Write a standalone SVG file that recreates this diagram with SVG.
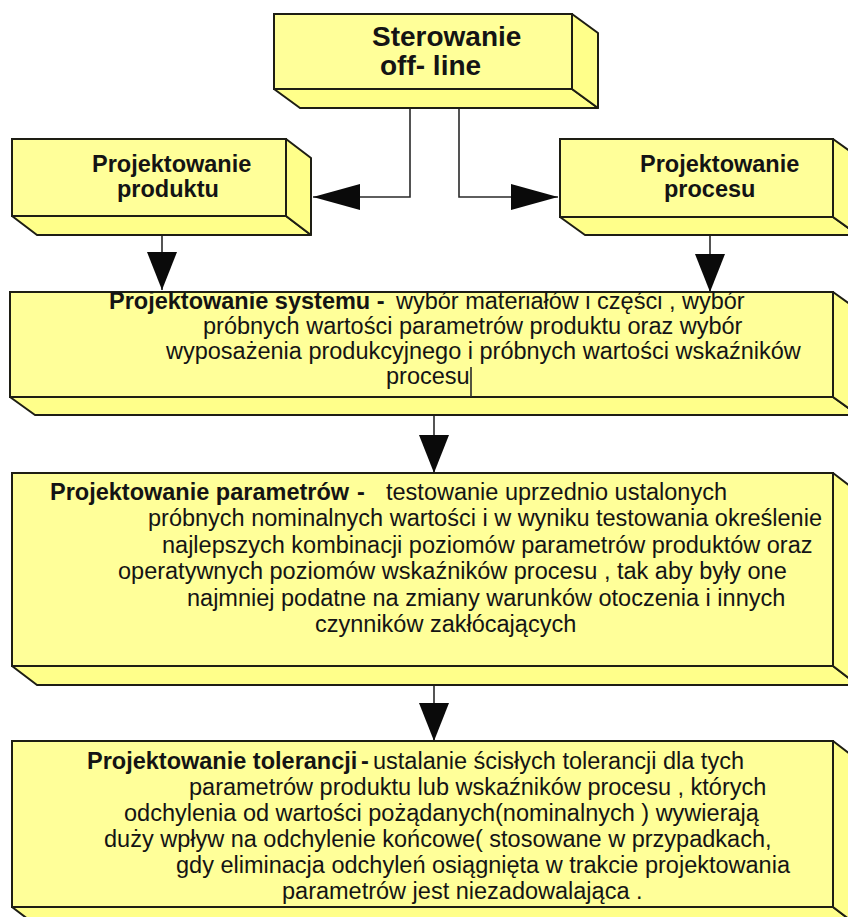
<svg xmlns="http://www.w3.org/2000/svg" width="848" height="917" viewBox="0 0 848 917">
  <defs>
    <style>
      .front { fill: #ffff99; stroke: #1e1e14; stroke-width: 2; }
      .depth { fill: #ffff8a; stroke: #1e1e14; stroke-width: 2; stroke-linejoin: round; }
      .t { font-family: "Liberation Sans", Arial, sans-serif; font-size: 23.5px; fill: #141414; }
      .b { font-weight: bold; }
      .big { font-size: 28px; }
      .conn { fill: none; stroke: #2a2a2a; stroke-width: 1.6; }
    </style>
    <marker id="arrV" markerUnits="userSpaceOnUse" markerWidth="40" markerHeight="30" refX="38" refY="15" orient="auto">
      <path d="M0,0 L38,15 L0,30 Z" fill="#0a0a0a"/>
    </marker>
    <marker id="arrH" markerUnits="userSpaceOnUse" markerWidth="48" markerHeight="28" refX="47" refY="13" orient="auto">
      <path d="M0,0 L47,13 L0,26 Z" fill="#0a0a0a"/>
    </marker>
  </defs>

  <rect width="848" height="917" fill="#ffffff"/>

  <!-- connectors -->
  <g id="connectors" class="conn">
    <path d="M410,101 V197 H313" marker-end="url(#arrH)"/>
    <path d="M459,101 V197 H558" marker-end="url(#arrH)"/>
    <path d="M162,225 V290" marker-end="url(#arrV)"/>
    <path d="M710,225 V292" marker-end="url(#arrV)"/>
    <path d="M434,406 V473" marker-end="url(#arrV)"/>
    <path d="M434,676 V741" marker-end="url(#arrV)"/>
  </g>

  <!-- Sterowanie off-line -->
  <g id="sterowanie">
    <polygon class="depth" points="274,89 572,89 598,108 300,108"/>
    <polygon class="depth" points="572,14 598,33 598,108 572,89"/>
    <rect class="front" x="274" y="14" width="298" height="75"/>
    <text class="t b big" x="372" y="46">Sterowanie</text>
    <text class="t b big" x="380" y="75">off- line</text>
  </g>

  <!-- Projektowanie produktu -->
  <g id="produkt">
    <polygon class="depth" points="12,216 286,216 311,235 37,235"/>
    <polygon class="depth" points="286,139 311,158 311,235 286,216"/>
    <rect class="front" x="12" y="139" width="274" height="77"/>
    <text class="t b" x="92" y="172">Projektowanie</text>
    <text class="t b" x="117" y="197">produktu</text>
  </g>

  <!-- Projektowanie procesu -->
  <g id="proces">
    <polygon class="depth" points="560,217 833,217 858,235 585,235"/>
    <polygon class="depth" points="833,139 858,157 858,235 833,217"/>
    <rect class="front" x="560" y="139" width="273" height="78"/>
    <text class="t b" x="640" y="172">Projektowanie</text>
    <text class="t b" x="664" y="197">procesu</text>
  </g>

  <!-- Projektowanie systemu -->
  <g id="system">
    <polygon class="depth" points="10,397 833,397 858,415 35,415"/>
    <polygon class="depth" points="833,292 858,310 858,415 833,397"/>
    <rect class="front" x="10" y="292" width="823" height="105"/>
    <text class="t" y="309"><tspan class="b" x="109">Projektowanie systemu -</tspan><tspan x="396">wybór materiałów i części , wybór</tspan></text>
    <text class="t" x="203" y="334">próbnych wartości parametrów produktu oraz wybór</text>
    <text class="t" x="166" y="359">wyposażenia produkcyjnego i próbnych wartości wskaźników</text>
    <text class="t" x="386" y="384">procesu</text>
    <line x1="471" y1="367" x2="471" y2="397" stroke="#2a2a2a" stroke-width="1.6"/>
  </g>

  <!-- Projektowanie parametrów -->
  <g id="parametry">
    <polygon class="depth" points="12,666 833,666 858,685 37,685"/>
    <polygon class="depth" points="833,473 858,492 858,685 833,666"/>
    <rect class="front" x="12" y="473" width="821" height="193"/>
    <text class="t" y="500"><tspan class="b" x="50">Projektowanie parametrów</tspan><tspan class="b" x="357">-</tspan><tspan x="386">testowanie uprzednio ustalonych</tspan></text>
    <text class="t" x="148" y="526">próbnych nominalnych wartości i w wyniku testowania określenie</text>
    <text class="t" x="162" y="553">najlepszych kombinacji poziomów parametrów produktów oraz</text>
    <text class="t" x="118" y="579">operatywnych poziomów wskaźników procesu , tak aby były one</text>
    <text class="t" x="187" y="606">najmniej podatne na zmiany warunków otoczenia i innych</text>
    <text class="t" x="315" y="632">czynników zakłócających</text>
  </g>

  <!-- Projektowanie tolerancji -->
  <g id="tolerancje">
    <polygon class="depth" points="12,907 833,907 858,926 37,926"/>
    <polygon class="depth" points="833,741 858,760 858,926 833,907"/>
    <rect class="front" x="12" y="741" width="821" height="166"/>
    <text class="t" y="769"><tspan class="b" x="87">Projektowanie tolerancji</tspan><tspan class="b" x="361">-</tspan><tspan x="373">ustalanie ścisłych tolerancji dla tych</tspan></text>
    <text class="t" x="189" y="795">parametrów produktu lub wskaźników procesu , których</text>
    <text class="t" x="124" y="821">odchylenia od wartości pożądanych(nominalnych ) wywierają</text>
    <text class="t" x="104" y="847">duży wpływ na odchylenie końcowe( stosowane w przypadkach,</text>
    <text class="t" x="176" y="873">gdy eliminacja odchyleń osiągnięta w trakcie projektowania</text>
    <text class="t" x="282" y="899">parametrów jest niezadowalająca .</text>
  </g>
</svg>
